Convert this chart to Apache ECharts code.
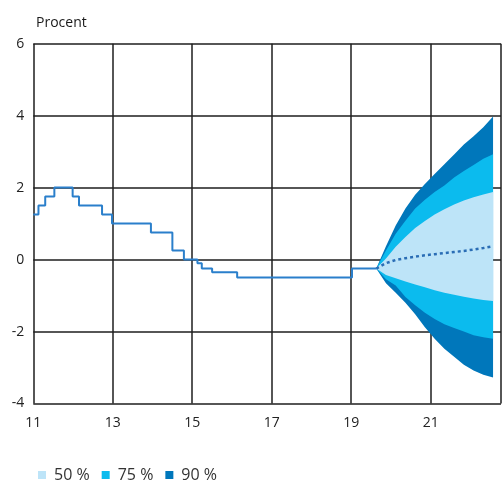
<!DOCTYPE html>
<html>
<head>
<meta charset="utf-8">
<script src="https://cdn.jsdelivr.net/npm/echarts@6/dist/echarts.min.js"></script>
<style>
html,body{margin:0;padding:0;background:#fff;}
#chart{width:504px;height:481px;}
</style>
</head>
<body>
<div id="chart"></div>
<script>
// Historical repo rate (step line): start of each level (decimal year) and value
const stepX = [11.0, 11.13, 11.3, 11.53, 11.99, 12.15, 12.73, 12.98, 13.96, 14.5, 14.79, 15.13, 15.24, 15.5, 16.13, 19.02, 19.63];
const stepY = [1.25, 1.5, 1.75, 2.0, 1.75, 1.5, 1.25, 1.0, 0.75, 0.25, 0.0, -0.1, -0.25, -0.35, -0.5, -0.25, -0.25];

// Forecast (quarterly)
const fanX    = [19.63, 19.875, 20.12, 20.365, 20.61, 20.855, 21.1, 21.345, 21.59, 21.835, 22.08, 22.325, 22.57];
const median  = [-0.25, -0.1, -0.01, 0.04, 0.08, 0.12, 0.15, 0.18, 0.21, 0.24, 0.28, 0.32, 0.37];
const upper50 = [-0.25, 0.03, 0.36, 0.63, 0.88, 1.07, 1.25, 1.4, 1.53, 1.64, 1.73, 1.81, 1.88];
const lower50 = [-0.25, -0.43, -0.52, -0.61, -0.69, -0.77, -0.85, -0.92, -0.98, -1.03, -1.08, -1.12, -1.15];
const upper75 = [-0.25, 0.25, 0.72, 1.08, 1.42, 1.66, 1.88, 2.06, 2.28, 2.46, 2.63, 2.8, 2.93];
const lower75 = [-0.25, -0.55, -0.72, -1.04, -1.27, -1.48, -1.65, -1.8, -1.9, -2.0, -2.1, -2.16, -2.2];
const upper90 = [-0.25, 0.37, 0.95, 1.42, 1.8, 2.1, 2.38, 2.65, 2.92, 3.2, 3.43, 3.68, 3.98];
const lower90 = [-0.25, -0.66, -0.92, -1.2, -1.52, -1.88, -2.2, -2.48, -2.7, -2.92, -3.08, -3.2, -3.28];

const xTicks = [11, 13, 15, 17, 19, 21];
const bandNames = ['50 %', '75 %', '90 %'];

const cLight = '#bde4f8', cCyan = '#0bbbee', cDark = '#0077bb';
const font = '"Open Sans", "Noto Sans", sans-serif';

function pairs(xs, ys) { return xs.map((x, i) => [x, ys[i]]); }

function band(name, lo, hi, color, z) {
  return {
    type: 'custom', name: name, silent: true, z: z,
    itemStyle: { color: color },
    data: fanX.map((x, i) => [x, lo[i], hi[i]]),
    encode: { x: 0, y: [1, 2] },
    renderItem: function (params, api) {
      if (params.dataIndex !== 0) return null;
      const pts = [];
      for (let i = 0; i < fanX.length; i++) pts.push(api.coord([fanX[i], hi[i]]));
      for (let i = fanX.length - 1; i >= 0; i--) pts.push(api.coord([fanX[i], lo[i]]));
      return {
        type: 'polygon',
        shape: { points: pts },
        style: { fill: color, stroke: null }
      };
    }
  };
}

const chart = echarts.init(document.getElementById('chart'), null, { renderer: 'canvas' });
chart.setOption({
  animation: false,
  backgroundColor: '#fff',
  title: {
    text: 'Procent', left: 31, top: 11,
    textStyle: { fontFamily: font, fontSize: 14, fontWeight: 'normal', color: '#1a1a1a' }
  },
  legend: {
    data: bandNames.map(n => ({ name: n, icon: 'rect', itemStyle: { color: n === '50 %' ? cLight : n === '75 %' ? cCyan : cDark } })),
    left: 33, top: 462,
    itemWidth: 8, itemHeight: 8, itemGap: 12,
    textStyle: { fontFamily: font, fontSize: 16, color: '#333', padding: [0, 0, 0, 3] },
    selectedMode: false
  },
  grid: { left: 33.3, right: 0, top: 43.7, bottom: 77.5, containLabel: false },
  xAxis: {
    type: 'value', min: 11, max: 22.77, interval: 2,
    axisLine: { show: false }, axisTick: { show: false },
    splitLine: { show: true, lineStyle: { color: '#1e1e1e', width: 1.5 } },
    axisLabel: {
      margin: 13, fontFamily: font, fontSize: 14, color: '#222',
      formatter: v => xTicks.indexOf(v) >= 0 ? String(v) : ''
    }
  },
  yAxis: {
    type: 'value', min: -4, max: 6, interval: 2,
    axisLine: { show: false }, axisTick: { show: false },
    splitLine: { show: true, lineStyle: { color: '#1e1e1e', width: 1.5 } },
    axisLabel: { margin: 9, fontFamily: font, fontSize: 14, color: '#222' }
  },
  series: [
    band('90 %', lower90, upper90, cDark, 3),
    band('75 %', lower75, upper75, cCyan, 4),
    band('50 %', lower50, upper50, cLight, 5),
    {
      type: 'line', name: 'Prognos', data: pairs(fanX, median),
      symbol: 'none', silent: true, z: 6,
      lineStyle: { color: '#2a6db5', width: 2.5, type: [3, 3] }
    },
    {
      type: 'line', name: 'Reporänta', data: pairs(stepX, stepY), step: 'end',
      symbol: 'none', silent: true, z: 6,
      lineStyle: { color: '#2a7fcb', width: 2 }
    }
  ]
});
</script>
</body>
</html>
